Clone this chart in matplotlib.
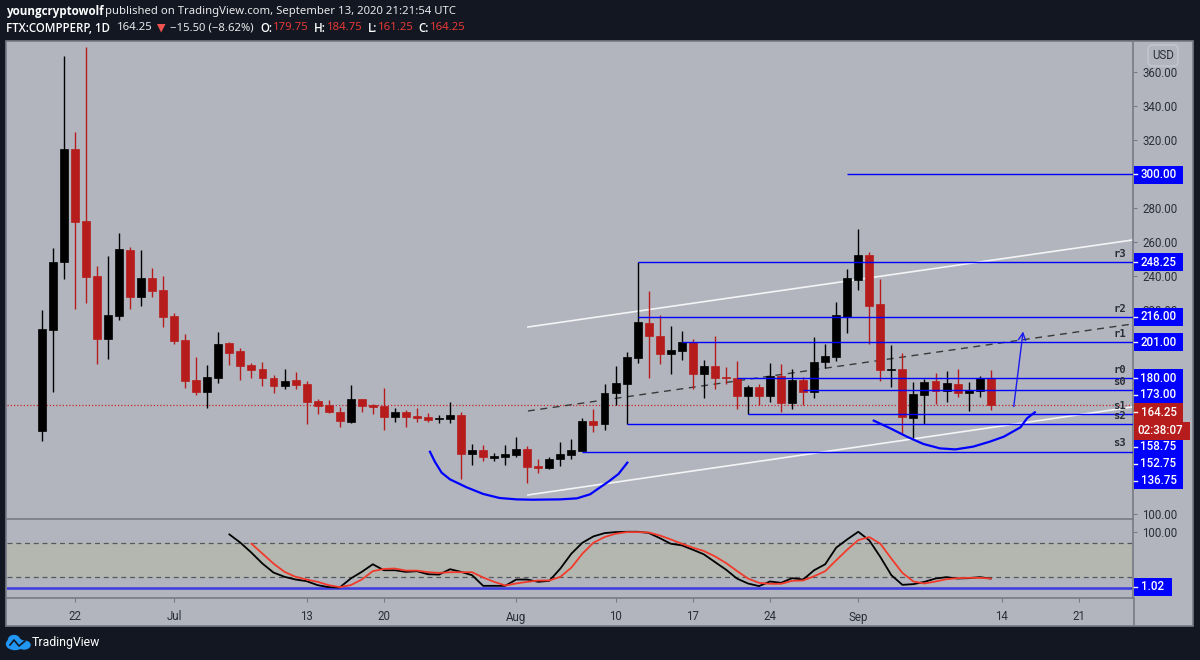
import pandas as pd
import matplotlib
matplotlib.use("Agg")
import matplotlib.pyplot as plt
from matplotlib.patches import Rectangle, Ellipse, Polygon

dates = pd.date_range("2020-06-19", periods=87)

opens = [148.8, 208.2, 248.0, 314.7, 272.4, 240.0, 203.1, 216.5, 255.1, 227.6, 238.8, 231.8, 216.5, 202.3, 178.6,
         172.0, 179.8, 200.8, 195.9, 187.5, 185.3, 180.2, 175.5, 178.6, 176.5, 166.5, 164.1, 160.2, 154.1, 167.5,
         164.1, 163.5, 157.2, 159.8, 157.6, 157.0, 155.7, 155.9, 158.2, 135.1, 137.6, 133.1, 133.3, 134.9, 138.2,
         128.2, 127.0, 132.2, 134.9, 137.2, 154.7, 152.8, 171.0, 176.5, 192.0, 212.4, 204.7, 194.3, 195.9, 201.2,
         182.2, 186.9, 180.8, 180.0, 169.4, 174.7, 169.4, 181.2, 165.4, 179.0, 171.6, 189.2, 192.5, 216.1, 237.5,
         252.2, 223.3, 184.7, 185.1, 156.6, 170.0, 178.4, 172.5, 176.3, 171.0, 172.5, 179.75]
highs = [220.0, 256.6, 369.4, 324.9, 374.7, 245.9, 251.8, 265.1, 257.2, 255.3, 244.5, 240.0, 218.0, 205.9, 192.5,
         187.5, 206.9, 201.4, 197.5, 189.0, 189.6, 181.6, 185.3, 183.5, 178.0, 167.6, 167.0, 162.8, 175.9, 167.6,
         164.7, 174.1, 162.2, 161.0, 162.5, 159.2, 158.2, 165.9, 159.8, 141.2, 140.6, 136.0, 140.6, 145.5, 140.0,
         132.4, 133.3, 142.2, 144.1, 156.3, 161.6, 176.3, 187.1, 195.1, 248.2, 231.2, 216.9, 210.6, 207.6, 202.8,
         190.8, 204.7, 186.3, 190.2, 175.9, 176.5, 188.6, 188.0, 185.3, 180.4, 204.0, 200.0, 224.5, 244.0, 267.6,
         254.3, 238.2, 199.4, 194.5, 177.5, 179.2, 182.8, 184.1, 185.3, 177.5, 181.4, 184.75]
lows = [143.1, 172.0, 238.0, 220.4, 223.9, 188.2, 191.0, 214.1, 220.8, 222.5, 227.8, 210.2, 200.2, 174.3, 169.8,
        162.2, 177.2, 187.6, 178.8, 179.8, 175.5, 171.0, 173.3, 173.7, 152.8, 159.0, 159.2, 151.3, 153.7, 160.2,
        158.8, 149.4, 154.1, 151.0, 154.3, 154.3, 153.7, 153.7, 120.4, 128.8, 131.3, 131.3, 128.8, 133.7, 118.4,
        124.3, 126.6, 128.2, 132.5, 137.2, 148.2, 149.4, 164.1, 153.0, 189.0, 179.8, 188.0, 182.2, 190.6, 173.3,
        168.2, 173.3, 176.3, 161.6, 158.8, 164.1, 166.0, 160.2, 161.6, 164.1, 168.4, 185.7, 190.2, 206.3, 232.0,
        199.8, 178.2, 174.9, 147.5, 144.5, 152.8, 164.5, 166.0, 168.8, 160.4, 168.8, 161.25]
closes = [208.6, 248.4, 314.7, 272.0, 239.6, 203.1, 216.9, 255.9, 227.6, 238.8, 231.3, 215.9, 201.9, 178.2, 172.0,
          180.4, 200.2, 194.9, 187.1, 184.9, 179.8, 175.5, 178.2, 176.0, 166.0, 163.7, 159.8, 154.5, 167.6, 163.7,
          163.1, 157.2, 159.8, 157.2, 156.6, 155.3, 156.5, 158.2, 135.1, 137.6, 133.3, 134.1, 135.3, 138.0, 127.8,
          127.2, 132.5, 135.3, 137.6, 154.7, 152.5, 171.3, 176.9, 192.3, 213.0, 204.7, 194.3, 196.5, 201.2, 182.2,
          186.9, 179.8, 180.0, 169.4, 174.5, 169.4, 181.2, 165.4, 179.0, 171.6, 189.6, 193.0, 216.9, 238.8, 252.2,
          222.5, 184.9, 185.1, 157.2, 170.8, 177.8, 172.2, 176.9, 171.0, 173.1, 180.0, 164.25]

stoch_k = [95.3, 80.6, 62.9, 43.5, 27.6, 20.0, 15.2, 12.3, 5.2, 1.7, 1.1, 17.0, 28.8, 42.3, 31.7, 31.7, 28.8, 30.0,
           24.6, 24.0, 33.5, 28.8, 22.9, 4.0, 4.0, 4.0, 15.2, 15.2, 11.1, 12.9, 34.7, 61.2, 80.6, 91.8, 97.6, 99.4,
           100.0, 100.0, 98.0, 88.8, 78.8, 75.9, 68.2, 60.0, 46.4, 32.9, 17.0, 8.2, 3.5, 11.7, 9.3, 17.6, 15.2,
           31.7, 42.3, 71.8, 86.5, 100.0, 84.7, 55.3, 22.9, 5.8, 7.0, 11.1, 17.0, 19.4, 17.0, 17.6, 19.4, 17.0]
stoch_d = [78.8, 61.2, 43.5, 28.8, 20.0, 15.2, 11.1, 5.2, 1.7, 5.2, 15.2, 30.0, 34.0, 34.7, 31.1, 31.1, 28.2, 27.0,
           28.2, 28.2, 28.2, 18.8, 11.1, 4.6, 8.2, 11.1, 13.5, 13.5, 20.0, 36.4, 61.2, 80.6, 90.6, 96.5, 99.4, 99.4,
           98.8, 93.5, 86.5, 78.8, 71.8, 65.9, 56.4, 44.7, 30.5, 17.0, 9.3, 7.6, 7.6, 12.9, 13.5, 21.1, 30.0, 49.4,
           68.2, 85.3, 90.6, 78.8, 52.3, 27.0, 11.7, 8.2, 11.7, 15.8, 17.6, 18.2, 18.2, 17.0]

# pivot levels and the candle each one starts from
level_names = ["r3", "r2", "r1", "r0", "s0", "s1", "s2", "s3"]
level_values = [248.25, 216.0, 201.0, 180.0, 173.0, 158.75, 152.75, 136.75]
level_starts = [54, 54, 58, 63, 69, 64, 53, 49]
target_value = 300.0
target_start = 73

trend_x = [44.06, 98.9]
upper_trend = [210.0, 261.2]
middle_trend = [160.6, 211.8]
lower_trend = [111.2, 163.0]

curve1_x = [35.18, 35.63, 36.24, 36.99, 38.5, 40.0, 41.5, 43.04, 44.5, 46.96, 48.5, 49.7, 50.6, 51.35, 52.26, 53.07]
curve1_y = [136.6, 130.7, 124.3, 120.4, 115.7, 111.8, 109.4, 108.6, 108.4, 108.6, 109.2, 111.6, 115.7, 119.0, 123.5, 130.2]
curve2_x = [75.4, 76.9, 78.4, 79.9, 81.4, 82.8, 84.4, 85.9, 87.2, 88.7, 89.3, 90.0]
curve2_y = [154.9, 150.4, 145.5, 141.2, 138.6, 138.0, 139.6, 142.5, 145.5, 151.0, 156.3, 159.8]

# the other round prices sit behind the blue labels
price_ticks = [100, 220, 240, 260, 280, 320, 340, 360]
time_ticks = [3, 12, 24, 31, 43, 52, 59, 66, 74, 87, 94]
time_labels = ["22", "Jul", "13", "20", "Aug", "10", "17", "24", "Sep", "14", "21"]

BG = "#131722"
PANE = "#b2b5be"
BLUE = "#0000ff"
RED = "#b71c1c"
GRID = "#787b86"
TEXT = "#2a2e39"
W, H = 1200.0, 660.0
AXIS_SIZE = 8.3
HEAD_SIZE = 8.15

plt.rcParams["font.family"] = ["Roboto", "DejaVu Sans"]
fig = plt.figure(figsize=(12, 6.6), dpi=100, facecolor=BG)


def box(x0, y0, x1, y1):
    # pixel box from the top left, in figure fractions
    return [x0 / W, 1 - y1 / H, (x1 - x0) / W, (y1 - y0) / H]


def put(x, y, s, **kw):
    fig.text(x / W, 1 - y / H, s, va="center", zorder=12, **kw)


def rect(x0, y0, x1, y1, color, z=10, **kw):
    l, b, w, h = box(x0, y0, x1, y1)
    fig.add_artist(Rectangle((l, b), w, h, transform=fig.transFigure, facecolor=color,
                             edgecolor=kw.pop("edge", "none"), lw=kw.pop("lw", 0), zorder=z))


rect(6, 41, 1193, 625.5, PANE, z=-1, edge=GRID, lw=1.2)

ax = fig.add_axes(box(6.5, 41, 1133, 519))
ax2 = fig.add_axes(box(6.5, 520, 1133, 598))
x_lim = (-3.2, 98.9)

for a in (ax, ax2):
    a.set_xlim(*x_lim)
    a.patch.set_alpha(0)
    a.yaxis.tick_right()
    for side in ("left", "top"):
        a.spines[side].set_visible(False)
    for side in ("right", "bottom"):
        a.spines[side].set_color(GRID)
        a.spines[side].set_linewidth(1.2)

# candles
idx = list(range(len(dates)))
for i in idx:
    col = "#000000" if closes[i] >= opens[i] else RED
    ax.vlines(i, lows[i], highs[i], color=col, lw=1.0, zorder=3)
    ax.bar(i, abs(closes[i] - opens[i]), bottom=min(opens[i], closes[i]), width=0.72, color=col,
           edgecolor=col, lw=0.5, zorder=4)

# hand drawn lines
ax.plot(trend_x, upper_trend, color="#f4f4f4", lw=1.2, zorder=2)
ax.plot(trend_x, lower_trend, color="#f4f4f4", lw=1.2, zorder=2)
ax.plot(trend_x, middle_trend, color="#3a3a3a", lw=1.0, ls=(0, (5, 4)), zorder=2)
ax.plot(curve1_x, curve1_y, color=BLUE, lw=1.6, zorder=6)
ax.plot(curve2_x, curve2_y, color=BLUE, lw=1.6, zorder=6)
ax.annotate("", xy=(88.97, 209), xytext=(88.06, 161.6),
            arrowprops=dict(arrowstyle="->", color="#1a1aee", lw=1.0, mutation_scale=13), zorder=6)

for name, val, start in zip(level_names, level_values, level_starts):
    ax.hlines(val, start, x_lim[1], color=BLUE, lw=1.0, zorder=5)
ax.hlines(target_value, target_start, x_lim[1], color=BLUE, lw=1.0, zorder=5)
ax.axhline(closes[-1], color="#c62828", lw=0.9, ls=(0, (1, 1.6)), zorder=1)

ax.set_ylim(97.06, 378.2)
ax.set_xticks([])
ax.set_yticks(price_ticks)
ax.set_yticklabels(["%.2f" % t for t in price_ticks], fontsize=AXIS_SIZE, color=TEXT)
ax.tick_params(axis="y", length=3, color=GRID, pad=3.5)

# stochastic pane
ax2.axhspan(20, 80, color="#b4b6b0", zorder=0)
ax2.axhline(80, color="#55585f", lw=0.9, ls=(0, (4, 3)), zorder=1)
ax2.axhline(20, color="#55585f", lw=0.9, ls=(0, (4, 3)), zorder=1)
ax2.axhline(1.02, color="#3f3fe0", lw=1.9, zorder=2)
ax2.plot(idx[17:], stoch_k, color="#000000", lw=1.3, zorder=3)
ax2.plot(idx[19:], stoch_d, color="#f23a2a", lw=1.3, zorder=4)
ax2.set_ylim(-17.6, 120.9)
ax2.set_yticks([100])
ax2.set_yticklabels(["100.00"], fontsize=AXIS_SIZE, color=TEXT)
ax2.tick_params(axis="y", length=3, color=GRID, pad=3.5)
ax2.set_xticks(time_ticks)
ax2.set_xticklabels(time_labels, fontsize=AXIS_SIZE, color=TEXT)
ax2.tick_params(axis="x", length=3, color=GRID, pad=6)

# price scale line runs down through the time axis
fig.add_artist(plt.Line2D([1133.5 / W, 1133.5 / W], [1 - 598 / H, 1 - 625 / H], color=GRID, lw=1.2, zorder=9))

# price labels
rect(1133.5, 165.7, 1183, 183.7, BLUE)
rect(1133.5, 253, 1183, 271, BLUE)
rect(1133.5, 308, 1183, 326, BLUE)
rect(1133.5, 333, 1183, 351, BLUE)
rect(1133.5, 369, 1183, 489, BLUE)
rect(1133.5, 403, 1183, 421.7, RED)
rect(1133.5, 421.7, 1189.5, 439.7, RED)
rect(1133.5, 578, 1172, 596, BLUE)

blue_rows = [(174.3, target_value), (262, 248.25), (316.7, 216.0), (342, 201.0), (378, 180.0), (395, 173.0),
             (447, 158.75), (463.7, 152.75), (481, 136.75)]
for y, val in blue_rows:
    put(1158.5, y, "%.2f" % val, color="white", fontsize=AXIS_SIZE, fontweight="medium", ha="center")
    fig.add_artist(plt.Line2D([1133.5 / W, 1137 / W], [1 - y / H, 1 - y / H], color="white", lw=1, zorder=11))
put(1158.5, 412, "%.2f" % closes[-1], color="white", fontsize=AXIS_SIZE, fontweight="medium", ha="center")
fig.add_artist(plt.Line2D([1133.5 / W, 1137 / W], [1 - 412 / H, 1 - 412 / H], color="white", lw=1, zorder=11))
put(1160, 431, "02:38:07", color="white", fontsize=AXIS_SIZE, fontweight="medium", ha="center")
put(1153, 587, "1.02", color="white", fontsize=AXIS_SIZE, fontweight="medium", ha="center")
fig.add_artist(plt.Line2D([1133.5 / W, 1137 / W], [1 - 587 / H, 1 - 587 / H], color="white", lw=1, zorder=11))

# pivot names
name_rows = [254, 309, 334, 370, 382, 406, 416, 443]
for name, y in zip(level_names, name_rows):
    put(1126, y, name, color="#2a2e39", fontsize=7.6, fontweight="bold", family="DejaVu Sans Mono", ha="right")

put(1163, 55.5, "USD", color=TEXT, fontsize=AXIS_SIZE, ha="center",
    bbox=dict(boxstyle="round,pad=0.35,rounding_size=0.4", facecolor="none", edgecolor="#c6c8d0", lw=1))

# header
hdr = ["Noto Sans", "DejaVu Sans"]
hdr_bold = ["Open Sans", "DejaVu Sans"]
put(6, 11.5, "youngcryptowolf", color="white", fontsize=8.4, fontweight="bold", family=hdr_bold)
put(105, 11.5, "published on TradingView.com, September 13, 2020 21:21:54 UTC", color="#e8e8ea", fontsize=HEAD_SIZE, family=hdr)
put(6, 28, "FTX:COMPPERP, 1D", color="white", fontsize=8.3, fontweight="semibold", family=hdr_bold)
put(117, 28, "164.25", color="#e8e8ea", fontsize=HEAD_SIZE, family=hdr)
fig.add_artist(Polygon([(157 / W, 1 - 24 / H), (165.5 / W, 1 - 24 / H), (161.2 / W, 1 - 32.5 / H)],
                       transform=fig.transFigure, facecolor="#ef5350", zorder=12))
put(170, 28, "\u221215.50 (\u22128.62%)", color="#e8e8ea", fontsize=HEAD_SIZE, family=hdr)
ohlc = [("O:", 260.7, 273, opens[-1]), ("H:", 314, 327, highs[-1]), ("L:", 367.7, 378.3, lows[-1]), ("C:", 418, 430, closes[-1])]
for lab, x, x_val, val in ohlc:
    put(x, 28, lab, color="white", fontsize=8.3, fontweight="semibold", family=hdr_bold)
    put(x_val, 28, "%.2f" % val, color="#e53935", fontsize=HEAD_SIZE, family=hdr)

# logo and footer
cloud = "#2196f3"
fig.add_artist(Ellipse((15 / W, 1 - 644 / H), 17 / W, 11 / H, transform=fig.transFigure, color=cloud, zorder=11))
fig.add_artist(Ellipse((24 / W, 1 - 645 / H), 12 / W, 8 / H, transform=fig.transFigure, color=cloud, zorder=11))
fig.add_artist(Ellipse((14 / W, 1 - 640 / H), 11 / W, 9 / H, transform=fig.transFigure, color=cloud, zorder=11))
fig.add_artist(plt.Line2D([10 / W, 14 / W, 19 / W, 25 / W], [1 - 645 / H, 1 - 640 / H, 1 - 646 / H, 1 - 641 / H],
                          color=BG, lw=1.2, zorder=12))
put(32, 642.5, "TradingView", color="white", fontsize=8.8)

fig.savefig("out.png", dpi=100, facecolor=BG)
